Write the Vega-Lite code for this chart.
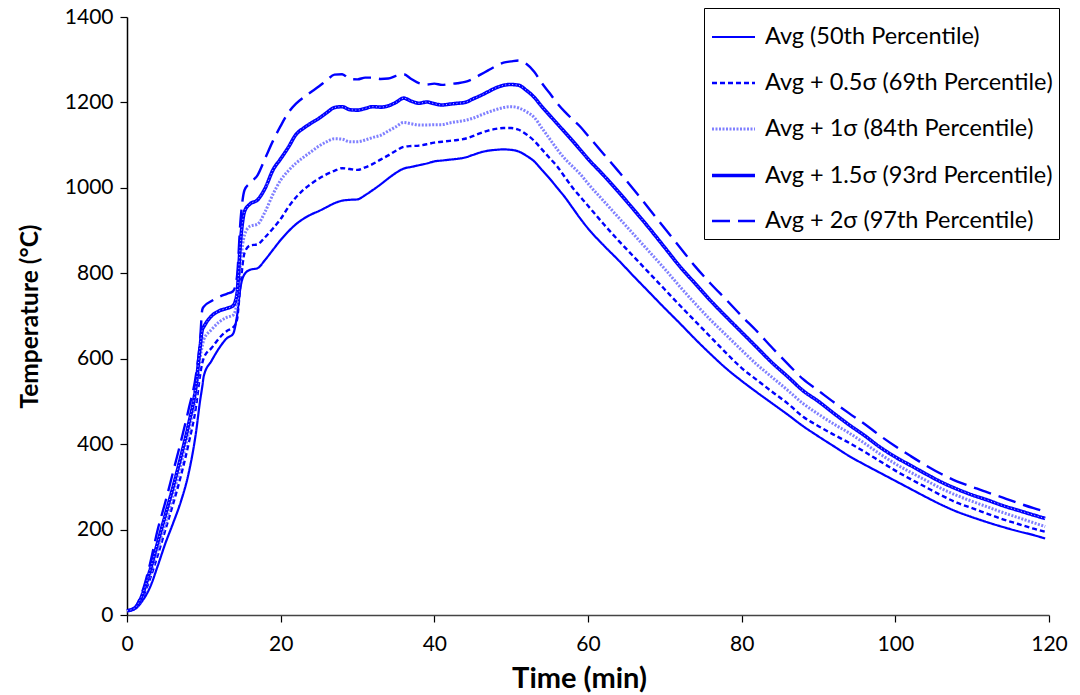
{
  "$schema": "https://vega.github.io/schema/vega-lite/v6.json",
  "autosize": "none",
  "width": 922,
  "height": 598,
  "padding": {"left": 127, "top": 17, "right": 31, "bottom": 80},
  "background": "white",
  "config": {
    "view": {"stroke": null},
    "font": "Lato",
    "axis": {"labelFont": "Lato", "titleFont": "Lato", "labelColor": "black", "titleColor": "black", "grid": false, "domainColor": "black", "tickColor": "black", "domainWidth": 1.5, "tickWidth": 1.2, "tickSize": 7}
  },
  "data": {"values": [
{"t":0,"s":"a","v":10},{"t":1,"s":"a","v":14},{"t":2,"s":"a","v":33},{"t":3,"s":"a","v":65},{"t":4,"s":"a","v":115},{"t":5,"s":"a","v":168},{"t":6,"s":"a","v":215},{"t":7,"s":"a","v":265},{"t":8,"s":"a","v":330},{"t":9,"s":"a","v":430},{"t":9.5,"s":"a","v":500},{"t":9.8,"s":"a","v":535},{"t":10,"s":"a","v":560},{"t":11,"s":"a","v":595},{"t":12,"s":"a","v":625},{"t":13,"s":"a","v":648},{"t":13.8,"s":"a","v":658},{"t":14.3,"s":"a","v":698},{"t":14.8,"s":"a","v":770},{"t":15.3,"s":"a","v":798},{"t":16,"s":"a","v":808},{"t":17,"s":"a","v":812},{"t":18,"s":"a","v":832},{"t":19,"s":"a","v":855},{"t":20,"s":"a","v":878},{"t":21,"s":"a","v":898},{"t":22,"s":"a","v":915},{"t":23,"s":"a","v":928},{"t":24,"s":"a","v":938},{"t":25,"s":"a","v":946},{"t":26,"s":"a","v":955},{"t":27,"s":"a","v":964},{"t":28,"s":"a","v":970},{"t":29,"s":"a","v":972},{"t":30,"s":"a","v":973},{"t":31,"s":"a","v":983},{"t":32,"s":"a","v":995},{"t":33,"s":"a","v":1008},{"t":34,"s":"a","v":1022},{"t":35,"s":"a","v":1035},{"t":36,"s":"a","v":1045},{"t":37,"s":"a","v":1049},{"t":38,"s":"a","v":1053},{"t":39,"s":"a","v":1057},{"t":40,"s":"a","v":1062},{"t":41,"s":"a","v":1064},{"t":42,"s":"a","v":1066},{"t":43,"s":"a","v":1068},{"t":44,"s":"a","v":1071},{"t":45,"s":"a","v":1077},{"t":46,"s":"a","v":1083},{"t":47,"s":"a","v":1087},{"t":48,"s":"a","v":1089},{"t":49,"s":"a","v":1090},{"t":50,"s":"a","v":1089},{"t":51,"s":"a","v":1085},{"t":52,"s":"a","v":1075},{"t":53,"s":"a","v":1062},{"t":54,"s":"a","v":1042},{"t":55,"s":"a","v":1022},{"t":56,"s":"a","v":1000},{"t":57,"s":"a","v":978},{"t":58,"s":"a","v":953},{"t":59,"s":"a","v":928},{"t":60,"s":"a","v":905},{"t":62,"s":"a","v":866},{"t":64,"s":"a","v":830},{"t":66,"s":"a","v":792},{"t":68,"s":"a","v":755},{"t":70,"s":"a","v":718},{"t":72,"s":"a","v":682},{"t":74,"s":"a","v":645},{"t":76,"s":"a","v":610},{"t":78,"s":"a","v":577},{"t":80,"s":"a","v":548},{"t":82,"s":"a","v":521},{"t":84,"s":"a","v":495},{"t":86,"s":"a","v":469},{"t":88,"s":"a","v":442},{"t":90,"s":"a","v":418},{"t":92,"s":"a","v":395},{"t":94,"s":"a","v":372},{"t":96,"s":"a","v":352},{"t":98,"s":"a","v":333},{"t":100,"s":"a","v":314},{"t":102,"s":"a","v":295},{"t":104,"s":"a","v":276},{"t":106,"s":"a","v":258},{"t":108,"s":"a","v":242},{"t":110,"s":"a","v":229},{"t":112,"s":"a","v":217},{"t":114,"s":"a","v":206},{"t":116,"s":"a","v":196},{"t":118,"s":"a","v":187},{"t":119.5,"s":"a","v":179},
{"t":0,"s":"b","v":10},{"t":1,"s":"b","v":15},{"t":2,"s":"b","v":40},{"t":3,"s":"b","v":85},{"t":4,"s":"b","v":140},{"t":5,"s":"b","v":200},{"t":6,"s":"b","v":260},{"t":7,"s":"b","v":325},{"t":8,"s":"b","v":400},{"t":9,"s":"b","v":490},{"t":9.5,"s":"b","v":560},{"t":9.8,"s":"b","v":590},{"t":10,"s":"b","v":602},{"t":11,"s":"b","v":625},{"t":12,"s":"b","v":648},{"t":13,"s":"b","v":665},{"t":13.8,"s":"b","v":673},{"t":14.3,"s":"b","v":690},{"t":14.8,"s":"b","v":780},{"t":15.3,"s":"b","v":848},{"t":16,"s":"b","v":865},{"t":17,"s":"b","v":868},{"t":18,"s":"b","v":885},{"t":19,"s":"b","v":905},{"t":20,"s":"b","v":927},{"t":21,"s":"b","v":955},{"t":22,"s":"b","v":978},{"t":23,"s":"b","v":996},{"t":24,"s":"b","v":1010},{"t":25,"s":"b","v":1022},{"t":26,"s":"b","v":1032},{"t":27,"s":"b","v":1040},{"t":28,"s":"b","v":1046},{"t":29,"s":"b","v":1044},{"t":30,"s":"b","v":1042},{"t":31,"s":"b","v":1048},{"t":32,"s":"b","v":1056},{"t":33,"s":"b","v":1066},{"t":34,"s":"b","v":1076},{"t":35,"s":"b","v":1087},{"t":36,"s":"b","v":1096},{"t":37,"s":"b","v":1098},{"t":38,"s":"b","v":1099},{"t":39,"s":"b","v":1102},{"t":40,"s":"b","v":1106},{"t":41,"s":"b","v":1108},{"t":42,"s":"b","v":1110},{"t":43,"s":"b","v":1112},{"t":44,"s":"b","v":1115},{"t":45,"s":"b","v":1121},{"t":46,"s":"b","v":1128},{"t":47,"s":"b","v":1134},{"t":48,"s":"b","v":1138},{"t":49,"s":"b","v":1140},{"t":50,"s":"b","v":1140},{"t":51,"s":"b","v":1136},{"t":52,"s":"b","v":1125},{"t":53,"s":"b","v":1110},{"t":54,"s":"b","v":1090},{"t":55,"s":"b","v":1070},{"t":56,"s":"b","v":1050},{"t":57,"s":"b","v":1025},{"t":58,"s":"b","v":1000},{"t":59,"s":"b","v":979},{"t":60,"s":"b","v":958},{"t":62,"s":"b","v":916},{"t":64,"s":"b","v":876},{"t":66,"s":"b","v":838},{"t":68,"s":"b","v":800},{"t":70,"s":"b","v":762},{"t":72,"s":"b","v":724},{"t":74,"s":"b","v":687},{"t":76,"s":"b","v":650},{"t":78,"s":"b","v":613},{"t":80,"s":"b","v":578},{"t":82,"s":"b","v":550},{"t":84,"s":"b","v":522},{"t":86,"s":"b","v":495},{"t":88,"s":"b","v":464},{"t":90,"s":"b","v":442},{"t":92,"s":"b","v":422},{"t":94,"s":"b","v":403},{"t":96,"s":"b","v":382},{"t":98,"s":"b","v":360},{"t":100,"s":"b","v":338},{"t":102,"s":"b","v":318},{"t":104,"s":"b","v":299},{"t":106,"s":"b","v":280},{"t":108,"s":"b","v":263},{"t":110,"s":"b","v":250},{"t":112,"s":"b","v":237},{"t":114,"s":"b","v":224},{"t":116,"s":"b","v":213},{"t":118,"s":"b","v":202},{"t":119.5,"s":"b","v":195},
{"t":0,"s":"c","v":10},{"t":1,"s":"c","v":15},{"t":2,"s":"c","v":45},{"t":3,"s":"c","v":95},{"t":4,"s":"c","v":155},{"t":5,"s":"c","v":215},{"t":6,"s":"c","v":280},{"t":7,"s":"c","v":350},{"t":8,"s":"c","v":425},{"t":9,"s":"c","v":520},{"t":9.5,"s":"c","v":600},{"t":9.8,"s":"c","v":630},{"t":10,"s":"c","v":645},{"t":11,"s":"c","v":668},{"t":12,"s":"c","v":686},{"t":13,"s":"c","v":697},{"t":13.8,"s":"c","v":702},{"t":14.3,"s":"c","v":730},{"t":14.8,"s":"c","v":830},{"t":15.3,"s":"c","v":890},{"t":16,"s":"c","v":910},{"t":17,"s":"c","v":915},{"t":18,"s":"c","v":945},{"t":19,"s":"c","v":985},{"t":20,"s":"c","v":1018},{"t":21,"s":"c","v":1040},{"t":22,"s":"c","v":1058},{"t":23,"s":"c","v":1072},{"t":24,"s":"c","v":1085},{"t":25,"s":"c","v":1098},{"t":26,"s":"c","v":1108},{"t":27,"s":"c","v":1115},{"t":28,"s":"c","v":1114},{"t":29,"s":"c","v":1108},{"t":30,"s":"c","v":1108},{"t":31,"s":"c","v":1112},{"t":32,"s":"c","v":1118},{"t":33,"s":"c","v":1123},{"t":34,"s":"c","v":1133},{"t":35,"s":"c","v":1143},{"t":36,"s":"c","v":1153},{"t":37,"s":"c","v":1150},{"t":38,"s":"c","v":1147},{"t":39,"s":"c","v":1147},{"t":40,"s":"c","v":1148},{"t":41,"s":"c","v":1148},{"t":42,"s":"c","v":1152},{"t":43,"s":"c","v":1155},{"t":44,"s":"c","v":1158},{"t":45,"s":"c","v":1163},{"t":46,"s":"c","v":1170},{"t":47,"s":"c","v":1177},{"t":48,"s":"c","v":1183},{"t":49,"s":"c","v":1188},{"t":50,"s":"c","v":1190},{"t":51,"s":"c","v":1187},{"t":52,"s":"c","v":1178},{"t":53,"s":"c","v":1165},{"t":54,"s":"c","v":1140},{"t":55,"s":"c","v":1115},{"t":56,"s":"c","v":1090},{"t":57,"s":"c","v":1068},{"t":58,"s":"c","v":1050},{"t":59,"s":"c","v":1032},{"t":60,"s":"c","v":1010},{"t":62,"s":"c","v":970},{"t":64,"s":"c","v":930},{"t":66,"s":"c","v":890},{"t":68,"s":"c","v":850},{"t":70,"s":"c","v":810},{"t":72,"s":"c","v":768},{"t":74,"s":"c","v":728},{"t":76,"s":"c","v":690},{"t":78,"s":"c","v":655},{"t":80,"s":"c","v":620},{"t":82,"s":"c","v":586},{"t":84,"s":"c","v":556},{"t":86,"s":"c","v":526},{"t":88,"s":"c","v":495},{"t":90,"s":"c","v":470},{"t":92,"s":"c","v":447},{"t":94,"s":"c","v":426},{"t":96,"s":"c","v":402},{"t":98,"s":"c","v":377},{"t":100,"s":"c","v":354},{"t":102,"s":"c","v":334},{"t":104,"s":"c","v":315},{"t":106,"s":"c","v":296},{"t":108,"s":"c","v":280},{"t":110,"s":"c","v":266},{"t":112,"s":"c","v":253},{"t":114,"s":"c","v":240},{"t":116,"s":"c","v":228},{"t":118,"s":"c","v":216},{"t":119.5,"s":"c","v":207},
{"t":0,"s":"d","v":10},{"t":1,"s":"d","v":16},{"t":2,"s":"d","v":48},{"t":3,"s":"d","v":105},{"t":4,"s":"d","v":170},{"t":5,"s":"d","v":235},{"t":6,"s":"d","v":300},{"t":7,"s":"d","v":370},{"t":8,"s":"d","v":445},{"t":9,"s":"d","v":540},{"t":9.5,"s":"d","v":625},{"t":9.8,"s":"d","v":668},{"t":10,"s":"d","v":675},{"t":11,"s":"d","v":700},{"t":12,"s":"d","v":712},{"t":13,"s":"d","v":718},{"t":13.8,"s":"d","v":724},{"t":14.3,"s":"d","v":750},{"t":14.8,"s":"d","v":880},{"t":15.3,"s":"d","v":945},{"t":16,"s":"d","v":962},{"t":17,"s":"d","v":972},{"t":18,"s":"d","v":1000},{"t":19,"s":"d","v":1042},{"t":20,"s":"d","v":1068},{"t":21,"s":"d","v":1095},{"t":22,"s":"d","v":1125},{"t":23,"s":"d","v":1140},{"t":24,"s":"d","v":1152},{"t":25,"s":"d","v":1163},{"t":26,"s":"d","v":1176},{"t":27,"s":"d","v":1188},{"t":28,"s":"d","v":1190},{"t":29,"s":"d","v":1183},{"t":30,"s":"d","v":1182},{"t":31,"s":"d","v":1186},{"t":32,"s":"d","v":1190},{"t":33,"s":"d","v":1189},{"t":34,"s":"d","v":1192},{"t":35,"s":"d","v":1200},{"t":36,"s":"d","v":1210},{"t":37,"s":"d","v":1203},{"t":38,"s":"d","v":1198},{"t":39,"s":"d","v":1201},{"t":40,"s":"d","v":1197},{"t":41,"s":"d","v":1194},{"t":42,"s":"d","v":1196},{"t":43,"s":"d","v":1198},{"t":44,"s":"d","v":1200},{"t":45,"s":"d","v":1208},{"t":46,"s":"d","v":1216},{"t":47,"s":"d","v":1225},{"t":48,"s":"d","v":1234},{"t":49,"s":"d","v":1240},{"t":50,"s":"d","v":1242},{"t":51,"s":"d","v":1240},{"t":52,"s":"d","v":1228},{"t":53,"s":"d","v":1212},{"t":54,"s":"d","v":1190},{"t":55,"s":"d","v":1170},{"t":56,"s":"d","v":1150},{"t":57,"s":"d","v":1130},{"t":58,"s":"d","v":1110},{"t":59,"s":"d","v":1089},{"t":60,"s":"d","v":1068},{"t":62,"s":"d","v":1030},{"t":64,"s":"d","v":990},{"t":66,"s":"d","v":948},{"t":68,"s":"d","v":905},{"t":70,"s":"d","v":860},{"t":72,"s":"d","v":815},{"t":74,"s":"d","v":775},{"t":76,"s":"d","v":735},{"t":78,"s":"d","v":698},{"t":80,"s":"d","v":662},{"t":82,"s":"d","v":626},{"t":84,"s":"d","v":590},{"t":86,"s":"d","v":558},{"t":88,"s":"d","v":525},{"t":90,"s":"d","v":500},{"t":92,"s":"d","v":472},{"t":94,"s":"d","v":445},{"t":96,"s":"d","v":420},{"t":98,"s":"d","v":393},{"t":100,"s":"d","v":370},{"t":102,"s":"d","v":350},{"t":104,"s":"d","v":330},{"t":106,"s":"d","v":311},{"t":108,"s":"d","v":295},{"t":110,"s":"d","v":281},{"t":112,"s":"d","v":269},{"t":114,"s":"d","v":256},{"t":116,"s":"d","v":245},{"t":118,"s":"d","v":234},{"t":119.5,"s":"d","v":226},
{"t":0,"s":"e","v":10},{"t":1,"s":"e","v":18},{"t":2,"s":"e","v":55},{"t":3,"s":"e","v":120},{"t":4,"s":"e","v":200},{"t":5,"s":"e","v":265},{"t":6,"s":"e","v":335},{"t":7,"s":"e","v":405},{"t":8,"s":"e","v":480},{"t":9,"s":"e","v":565},{"t":9.5,"s":"e","v":640},{"t":9.8,"s":"e","v":715},{"t":10,"s":"e","v":722},{"t":11,"s":"e","v":735},{"t":12,"s":"e","v":745},{"t":13,"s":"e","v":752},{"t":13.8,"s":"e","v":758},{"t":14.3,"s":"e","v":790},{"t":14.8,"s":"e","v":930},{"t":15.3,"s":"e","v":995},{"t":16,"s":"e","v":1011},{"t":17,"s":"e","v":1030},{"t":18,"s":"e","v":1070},{"t":19,"s":"e","v":1110},{"t":20,"s":"e","v":1145},{"t":21,"s":"e","v":1176},{"t":22,"s":"e","v":1197},{"t":23,"s":"e","v":1212},{"t":24,"s":"e","v":1225},{"t":25,"s":"e","v":1238},{"t":26,"s":"e","v":1252},{"t":27,"s":"e","v":1265},{"t":28,"s":"e","v":1266},{"t":29,"s":"e","v":1255},{"t":30,"s":"e","v":1254},{"t":31,"s":"e","v":1258},{"t":32,"s":"e","v":1258},{"t":33,"s":"e","v":1255},{"t":34,"s":"e","v":1256},{"t":35,"s":"e","v":1262},{"t":36,"s":"e","v":1266},{"t":37,"s":"e","v":1255},{"t":38,"s":"e","v":1245},{"t":39,"s":"e","v":1242},{"t":40,"s":"e","v":1244},{"t":41,"s":"e","v":1241},{"t":42,"s":"e","v":1243},{"t":43,"s":"e","v":1245},{"t":44,"s":"e","v":1248},{"t":45,"s":"e","v":1255},{"t":46,"s":"e","v":1265},{"t":47,"s":"e","v":1275},{"t":48,"s":"e","v":1285},{"t":49,"s":"e","v":1293},{"t":50,"s":"e","v":1296},{"t":51,"s":"e","v":1298},{"t":52,"s":"e","v":1290},{"t":53,"s":"e","v":1272},{"t":54,"s":"e","v":1245},{"t":55,"s":"e","v":1222},{"t":56,"s":"e","v":1198},{"t":57,"s":"e","v":1178},{"t":58,"s":"e","v":1160},{"t":59,"s":"e","v":1143},{"t":60,"s":"e","v":1122},{"t":62,"s":"e","v":1080},{"t":64,"s":"e","v":1038},{"t":66,"s":"e","v":995},{"t":68,"s":"e","v":950},{"t":70,"s":"e","v":905},{"t":72,"s":"e","v":860},{"t":74,"s":"e","v":815},{"t":76,"s":"e","v":775},{"t":78,"s":"e","v":738},{"t":80,"s":"e","v":700},{"t":82,"s":"e","v":664},{"t":84,"s":"e","v":625},{"t":86,"s":"e","v":588},{"t":88,"s":"e","v":552},{"t":90,"s":"e","v":525},{"t":92,"s":"e","v":498},{"t":94,"s":"e","v":472},{"t":96,"s":"e","v":447},{"t":98,"s":"e","v":420},{"t":100,"s":"e","v":395},{"t":102,"s":"e","v":372},{"t":104,"s":"e","v":350},{"t":106,"s":"e","v":330},{"t":108,"s":"e","v":313},{"t":110,"s":"e","v":300},{"t":112,"s":"e","v":287},{"t":114,"s":"e","v":275},{"t":116,"s":"e","v":262},{"t":118,"s":"e","v":250},{"t":119.5,"s":"e","v":242}
  ]},
  "encoding": {
    "x": {"field": "t", "type": "quantitative", "scale": {"domain": [0, 120], "nice": false},
      "axis": {"values": [0, 20, 40, 60, 80, 100, 120], "title": "Time (min)", "labelFontSize": 21, "labelPadding": 11, "titleFontSize": 29, "titleFontWeight": "bold", "titlePadding": 10, "titleX": 452, "domainColor": "#444", "labelFlush": false}},
    "y": {"field": "v", "type": "quantitative", "scale": {"domain": [0, 1400], "nice": false},
      "axis": {"values": [0, 200, 400, 600, 800, 1000, 1200, 1400], "format": "d", "title": "Temperature (°C)", "labelFontSize": 21, "labelPadding": 7, "titleFontSize": 24.5, "titleFontWeight": "bold", "titlePadding": 22}}
  },
  "layer": [
    {
      "mark": {"type": "line", "strokeJoin": "round", "interpolate": "monotone"},
      "encoding": {
        "color": {"field": "s", "type": "nominal", "scale": {"domain": ["a", "b", "c", "d", "e"], "range": ["#0000ff", "#0000ff", "#8080ff", "#0000ff", "#0000ff"]},
          "legend": {"title": null, "orient": "none", "legendX": 577, "legendY": -9, "symbolType": "stroke", "symbolSize": 1849, "labelFontSize": 23.5, "labelFont": "Lato", "labelColor": "black", "labelOffset": 8, "rowPadding": 11, "padding": 6, "strokeColor": "black", "fillColor": "white", "labelLimit": 400,
            "labelExpr": "datum.value == 'a' ? 'Avg (50th Percentile)' : datum.value == 'b' ? 'Avg + 0.5σ (69th Percentile)' : datum.value == 'c' ? 'Avg + 1σ (84th Percentile)' : datum.value == 'd' ? 'Avg + 1.5σ (93rd Percentile)' : 'Avg + 2σ (97th Percentile)'"}},
        "strokeDash": {"field": "s", "type": "nominal", "scale": {"domain": ["a", "b", "c", "d", "e"], "range": [[1, 0], [5, 3], [2, 1.5], [1, 0], [18, 8]]}},
        "strokeWidth": {"field": "s", "type": "nominal", "scale": {"type": "ordinal", "domain": ["a", "b", "c", "d", "e"], "range": [2.2, 2.4, 3, 3.6, 2.4]}}
      }
    },
    {
      "transform": [{"filter": "datum.s == 'd'"}],
      "mark": {"type": "line", "color": "white", "strokeWidth": 1, "strokeDash": [1, 2.5], "opacity": 0.8, "interpolate": "monotone"},
      "encoding": {}
    }
  ]
}
